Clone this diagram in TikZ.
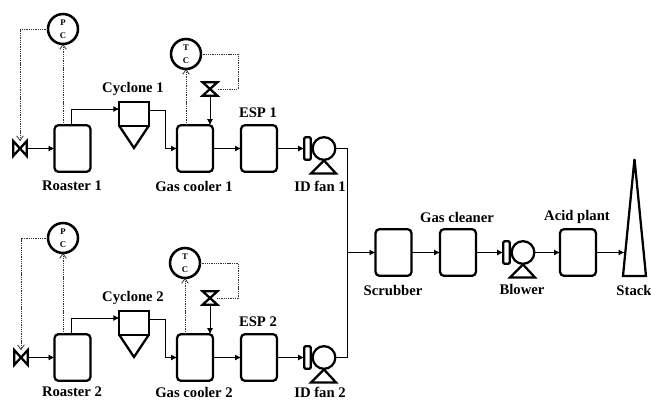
\documentclass[tikz,border=0pt]{standalone}
\usepackage{fontspec}
\setmainfont{Liberation Serif}
\usetikzlibrary{arrows.meta,calc}
\tikzset{
  unitline/.style={line width=1.7pt},
  unitbox/.style={draw,unitline,rounded corners=3pt,minimum width=27pt,minimum height=35pt,outer sep=0pt},
  ctrlbub/.style={draw,line width=1.9pt,circle,minimum size=22.5pt,inner sep=0pt,outer sep=0pt,align=center,font=\fontsize{6.5}{9.5}\selectfont\bfseries},
  flowline/.style={line width=0.7pt,-{Latex[length=4.5pt,width=4.5pt]}},
  pipeline/.style={line width=0.7pt},
  signal/.style={line width=0.6pt,black!80,dash pattern=on 1pt off 0.7pt},
  sigarrow/.style={signal,-{Straight Barb[length=3.5pt,width=5pt]}},
  tag/.style={font=\fontsize{11}{13}\selectfont\bfseries,inner sep=0pt},
}
\newcommand{\valvehz}[2]{% valve with flow left to right, centered at (#2)
  \node[minimum width=10pt,minimum height=11pt,inner sep=0pt,outer sep=0pt] (#1) at (#2) {};
  \draw[unitline,line join=miter] (#1.north west) -- (#1.south east) -- (#1.north east) -- (#1.south west) -- cycle;
}
\newcommand{\valvevt}[2]{% valve with flow top to bottom, centered at (#2)
  \node[minimum width=11pt,minimum height=10pt,inner sep=0pt,outer sep=0pt] (#1) at (#2) {};
  \draw[unitline,line join=miter] (#1.north west) -- (#1.north east) -- (#1.south west) -- (#1.south east) -- cycle;
}
\newcommand{\fanunit}[2]{% fan with casing and foot, wheel centered at (#2)
  \node[draw,unitline,circle,minimum size=17pt,inner sep=0pt,outer sep=0pt] (#1) at (#2) {};
  \node[draw,unitline,rounded corners=1pt,minimum width=5pt,minimum height=17pt,inner sep=0pt,outer sep=0pt] (#1c) at ($(#2)+(-16.5,0)$) {};
  \draw[unitline] ($(#2)+(0,12)$) -- ($(#2)+(12,25)$) -- ($(#2)+(-13,25)$) -- cycle;
}
\newcommand{\cycbody}[1]{% cone under the cyclone head
  \draw[unitline] (#1.south west) -- ($(#1.south)+(0,22)$) -- (#1.south east);
}
\begin{document}
\begin{tikzpicture}[x=0.75pt,y=-0.75pt]
  \useasboundingbox (0,0) rectangle (651,400);
  % upper train
  \node[unitbox] (roaster1) at (72.5,148.5) {};
  \node[unitbox] (cooler1) at (195,148.5) {};
  \node[unitbox] (esp1) at (259,148.5) {};
  \node[draw,unitline,minimum width=22pt,minimum height=18pt,outer sep=0pt] (cyclone1) at (134,114) {};
  \cycbody{cyclone1}
  \valvehz{rvalve1}{20,148.5}
  \valvevt{cvalve1}{210,89}
  \fanunit{fan1}{324,148.5}
  \node[ctrlbub] (pc1) at (63,29) {P\\C};
  \node[ctrlbub] (tc1) at (186,54) {T\\C};
  \draw[flowline] (rvalve1.east) -- (rvalve1.east -| roaster1.west);
  \draw[flowline] ($(roaster1.north)+(-1.5,0)$) |- ($(cyclone1.north west)+(0,7)$);
  \draw[flowline] ($(cyclone1.north east)+(0,8)$) -- (165,110) |- (cooler1.west);
  \draw[flowline] (cooler1) -- (esp1);
  \draw[flowline] (esp1) -- (fan1c);
  \draw[flowline] (cvalve1) -- (cvalve1 |- cooler1.north);
  \draw[sigarrow] (pc1 |- roaster1.north) -- (pc1);
  \draw[sigarrow] (pc1.west) -| (rvalve1.north);
  \draw[sigarrow] (tc1 |- cooler1.north) -- (tc1);
  \draw[signal] (tc1.east) -- (238,54) |- (cvalve1.east);
  % lower train
  \node[unitbox] (roaster2) at (72.5,357.5) {};
  \node[unitbox] (cooler2) at (195,357.5) {};
  \node[unitbox] (esp2) at (259,357.5) {};
  \node[draw,unitline,minimum width=22pt,minimum height=18pt,outer sep=0pt] (cyclone2) at (134,323) {};
  \cycbody{cyclone2}
  \valvehz{rvalve2}{21,357.5}
  \valvevt{cvalve2}{210,298}
  \fanunit{fan2}{324,357.5}
  \node[ctrlbub] (pc2) at (63,238) {P\\C};
  \node[ctrlbub] (tc2) at (185,263) {T\\C};
  \draw[flowline] (rvalve2.east) -- (rvalve2.east -| roaster2.west);
  \draw[flowline] ($(roaster2.north)+(-1.5,0)$) |- ($(cyclone2.north west)+(0,7)$);
  \draw[flowline] ($(cyclone2.north east)+(0,8)$) -- (165,319) |- (cooler2.west);
  \draw[flowline] (cooler2) -- (esp2);
  \draw[flowline] (esp2) -- (fan2c);
  \draw[flowline] (cvalve2) -- (cvalve2 |- cooler2.north);
  \draw[sigarrow] (pc2 |- roaster2.north) -- (pc2);
  \draw[sigarrow] (pc2.west) -| (rvalve2.north);
  \draw[sigarrow] (tc2 |- cooler2.north) -- (tc2);
  \draw[signal] (tc2.east) -- (238,263) |- (cvalve2.east);
  % common line to the stack
  \coordinate (junction) at (347,252.5);
  \node[unitbox] (scrubber) at (393.5,252.5) {};
  \node[unitbox] (cleaner) at (458,252.5) {};
  \fanunit{blower}{523,252.5}
  \node[unitbox] (acid) at (578,252.5) {};
  \coordinate (stacktop) at (634.5,159);
  \coordinate (stackin) at (624.5,252.5);
  \draw[unitline] (stacktop) -- (646,276) -- (623,276) -- cycle;
  \draw[pipeline] (fan1.east) -- (fan1.east -| junction) -- (fan2.east -| junction) -- (fan2.east);
  \draw[flowline] (junction) -- (scrubber);
  \draw[flowline] (scrubber) -- (cleaner);
  \draw[flowline] (cleaner) -- (blowerc);
  \draw[flowline] (blower) -- (acid);
  \draw[flowline] (acid) -- (stackin);
  % labels
  \node[tag] (lr1) at (72,186) {Roaster 1};
  \node[tag] (lc1) at (133,89) {Cyclone 1};
  \node[tag] (lg1) at (194,186) {Gas cooler 1};
  \node[tag] (le1) at (258,113) {ESP 1};
  \node[tag] (lf1) at (320,186) {ID fan 1};
  \node[tag] (lr2) at (72,392) {Roaster 2};
  \node[tag] (lc2) at (133,298) {Cyclone 2};
  \node[tag] (lg2) at (194,392) {Gas cooler 2};
  \node[tag] (le2) at (258,322) {ESP 2};
  \node[tag] (lf2) at (320,392) {ID fan 2};
  \node[tag] (ls) at (393,290) {Scrubber};
  \node[tag] (lk) at (457,217) {Gas cleaner};
  \node[tag] (lb) at (522,289) {Blower};
  \node[tag] (la) at (577,217) {Acid plant};
  \node[tag] (lt) at (634,290) {Stack};
\end{tikzpicture}
\end{document}
